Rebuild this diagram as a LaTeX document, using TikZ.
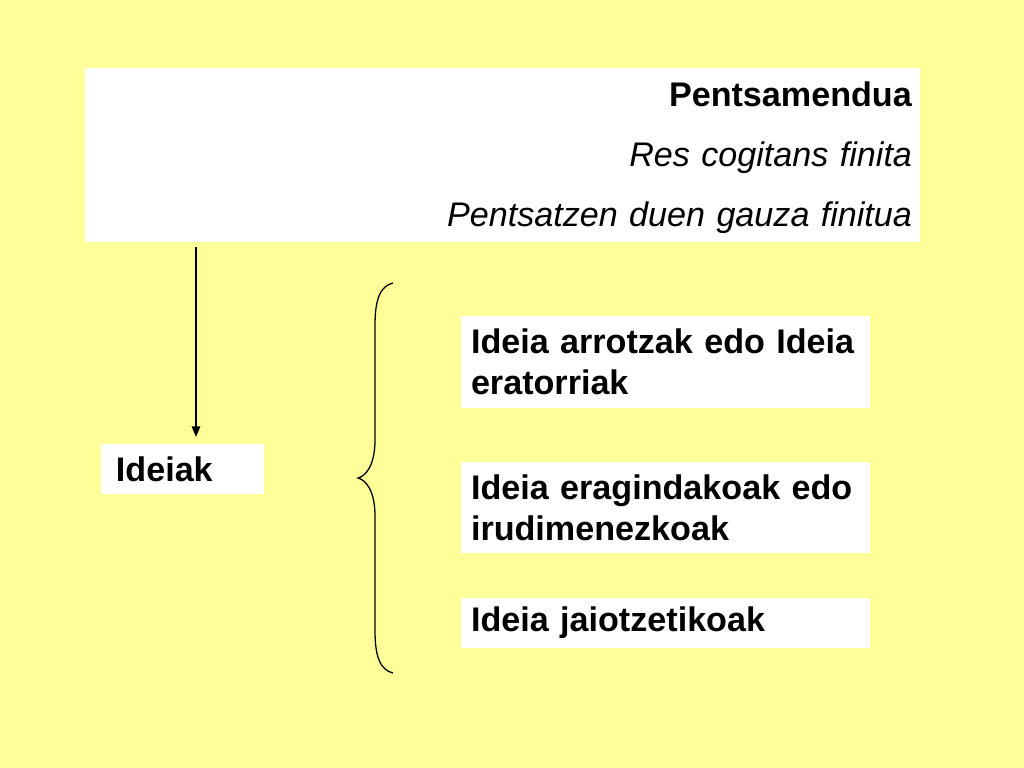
\documentclass[tikz,border=0pt]{standalone}
\usepackage{fontspec}
\setmainfont{Liberation Sans}
\usetikzlibrary{arrows.meta}
\definecolor{bgyellow}{HTML}{FFFF99}
\begin{document}
\begin{tikzpicture}[x=0.703125pt,y=-0.703125pt,
  box/.style={fill=white,draw=none,inner sep=0pt,align=left,
    font=\fontsize{24}{28.8}\selectfont\bfseries},
  conn/.style={line width=1pt,-{Triangle[length=7.5pt,width=6pt]}},
  bracestyle/.style={line width=0.9pt}]
\fill[bgyellow] (0,0) rectangle (1024,768);
\useasboundingbox (0,0) rectangle (1024,768);
% top box
\node[fill=white,inner sep=0pt,minimum width=587.1pt,minimum height=122.3pt] (top) at (502.5,155) {};
\node[inner sep=0pt,align=right,text width=575.9pt,font=\fontsize{24}{42.2}\selectfont] (toptext) at (502.5,158)
  {\textbf{Pentsamendua}\\ \textit{Res cogitans finita}\\ \textit{Pentsatzen duen gauza finitua}};
% Ideiak
\node[box,minimum width=114.6pt,minimum height=35.2pt,text width=93.6pt] (ideiak) at (182.5,469) {Ideiak};
% right boxes
\node[box,minimum width=287.6pt,minimum height=64.7pt,text width=273.5pt] (b1) at (665.5,362) {Ideia arrotzak edo Ideia\\eratorriak};
\node[box,minimum width=287.6pt,minimum height=64pt,text width=273.5pt] (b2) at (665.5,507.5) {Ideia eragindakoak edo\\irudimenezkoak};
\node[box,minimum width=287.6pt,minimum height=35.2pt,text width=273.5pt] (b3) at (665.5,623) {Ideia jaiotzetikoak};
% arrow
\coordinate (as) at (196,247);
\coordinate (ae) at (196,437);
\draw[conn] (as) -- (ae);
% brace
\coordinate (bt) at (393,283);
\coordinate (bm) at (358,478);
\coordinate (bb) at (393,673);
\draw[bracestyle] (bt) .. controls (380,286) and (375,300) .. (375,325)
  -- (375,440) .. controls (375,465) and (366,476) .. (bm)
  .. controls (366,480) and (375,491) .. (375,516)
  -- (375,631) .. controls (375,656) and (380,670) .. (bb);
\end{tikzpicture}
\end{document}
